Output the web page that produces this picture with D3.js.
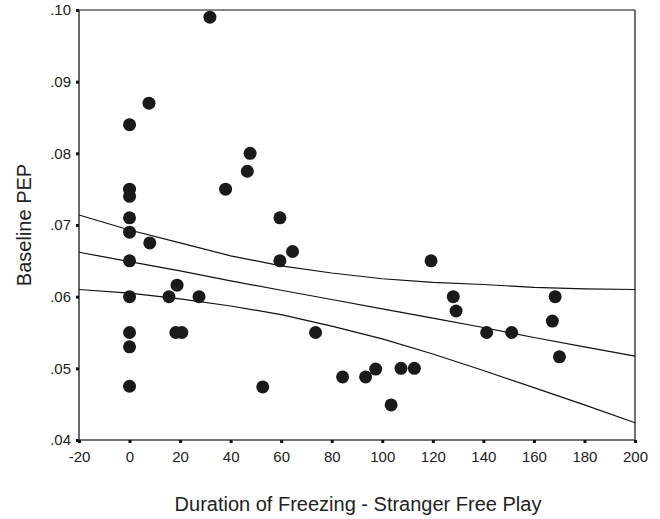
<!DOCTYPE html>
<html>
<head>
<meta charset="utf-8">
<style>
    body { margin: 0; background: #fff; }
    svg { display: block; font-family: Arial, "Liberation Sans", sans-serif; }
    .axis .domain { display: none; }
    .axis .tick line { stroke: #111; stroke-width: 3; }
    .axis .tick text { font-size: 15px; fill: #222; }
    .title { font-size: 20px; fill: #222; }
</style>
</head>
<body>
<svg width="660" height="519"></svg>
<script src="https://d3js.org/d3.v7.min.js"></script>
<script>

// points
let freezing = [0, 0, 0, 0, 0, 0, 0, 0, 0, 0,
    31.8, 7.7, 8, 18.8, 15.6, 27.5, 18.3, 20.7, 38, 47.7,
    46.6, 59.5, 64.5, 59.5, 73.6, 52.7, 84.3, 93.4, 97.4, 107.4,
    112.7, 103.5, 119.3, 128.1, 129.2, 141.3, 151.2, 168.4, 167.3, 170.1]
let pep = [.084, .075, .074, .071, .069, .065, .060, .055, .053, .0475,
    .099, .087, .0675, .0616, .060, .060, .055, .055, .075, .080,
    .0775, .071, .0663, .065, .055, .0474, .0488, .0488, .0499, .050,
    .050, .0449, .065, .060, .058, .055, .055, .060, .0566, .0516]

// fit line and its band, read at the x ticks
let lineX = [-20, 0, 20, 40, 60, 80, 100, 120, 140, 160, 180, 200]
let fitY = [.0662, .0649, .0636, .0622, .0609, .0596, .0583, .0570, .0557, .0543, .0530, .0517]
let upperY = [.0714, .0693, .0675, .0657, .0643, .0633, .0625, .0620, .0617, .0613, .0611, .0610]
let lowerY = [.0610, .0605, .0597, .0587, .0575, .0559, .0541, .0520, .0497, .0473, .0449, .0424]

let xTicks = [-20, 0, 20, 40, 60, 80, 100, 120, 140, 160, 180, 200]
let yTicks = [.04, .05, .06, .07, .08, .09, .10]

let margin = { top: 10, right: 25, bottom: 79, left: 79 }
let width = 660, height = 519

let svg = d3.select("svg")

let x = d3.scaleLinear().domain([-20, 200]).range([margin.left, width - margin.right])
let y = d3.scaleLinear().domain([.04, .10]).range([height - margin.bottom, margin.top])

// frame: top and right thin, left and bottom axis lines
svg.append("line")
    .attr("x1", x(-20)).attr("x2", x(200))
    .attr("y1", y(.10)).attr("y2", y(.10))
    .attr("stroke", "#111").attr("stroke-width", 1.2)
svg.append("line")
    .attr("x1", x(200)).attr("x2", x(200))
    .attr("y1", y(.10)).attr("y2", y(.04))
    .attr("stroke", "#111").attr("stroke-width", 1.2)
svg.append("line")
    .attr("x1", x(-20)).attr("x2", x(-20))
    .attr("y1", y(.10)).attr("y2", y(.04))
    .attr("stroke", "#444").attr("stroke-width", 1.6)
svg.append("line")
    .attr("x1", x(-20)).attr("x2", x(200))
    .attr("y1", y(.04)).attr("y2", y(.04))
    .attr("stroke", "#444").attr("stroke-width", 1.6)

svg.append("g")
    .attr("class", "x axis")
    .attr("transform", `translate(0, ${y(.04)})`)
    .call(d3.axisBottom(x).tickValues(xTicks).tickSize(3).tickPadding(8).tickFormat(d => String(d)))

svg.append("g")
    .attr("class", "y axis")
    .attr("transform", `translate(${x(-20)}, 0)`)
    .call(d3.axisLeft(y).tickValues(yTicks).tickSize(3).tickPadding(5)
        .tickFormat(d => d3.format(".2f")(d).replace(/^0/, "")))

// regression line + bands
let line = d3.line()
    .x((d, i) => x(lineX[i]))
    .y(d => y(d))

let lines = [upperY, fitY, lowerY]
svg.append("g")
    .selectAll("path")
    .data(lines)
    .join("path")
    .attr("d", line)
    .attr("fill", "none")
    .attr("stroke", "#111")
    .attr("stroke-width", 1.2)

svg.append("g")
    .selectAll("circle")
    .data(freezing)
    .join("circle")
    .attr("cx", d => x(d))
    .attr("cy", (d, i) => y(pep[i]))
    .attr("r", 6.5)
    .attr("fill", "#1a1a1a")

svg.append("text")
    .attr("class", "title")
    .attr("x", 358)
    .attr("y", 511)
    .attr("text-anchor", "middle")
    .text("Duration of Freezing - Stranger Free Play")

svg.append("text")
    .attr("class", "title")
    .attr("transform", "translate(31, 225) rotate(-90)")
    .attr("text-anchor", "middle")
    .text("Baseline PEP")

</script>
</body>
</html>
